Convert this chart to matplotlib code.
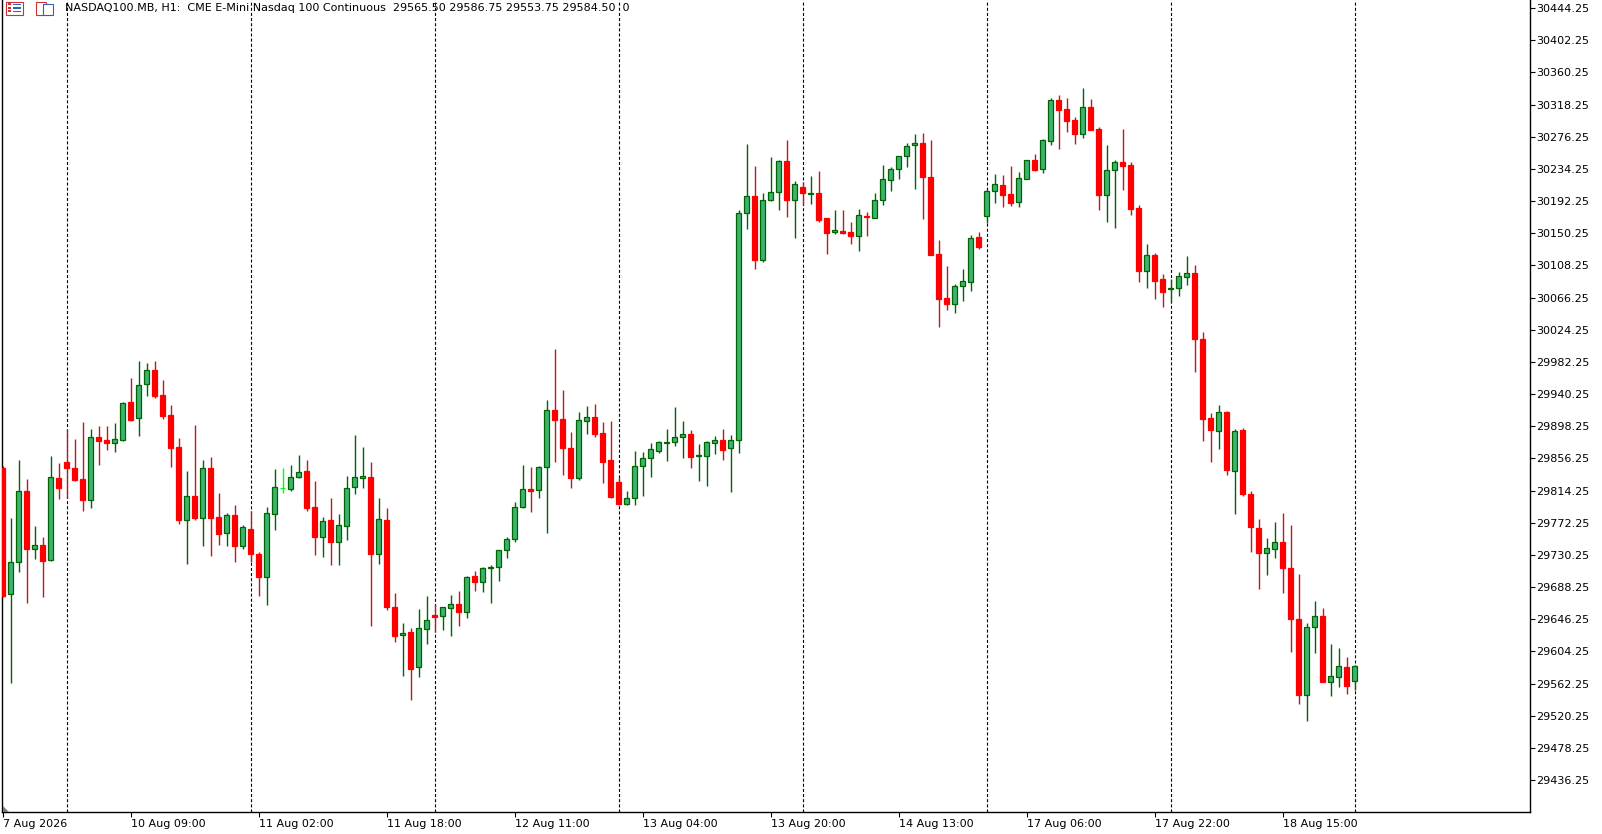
import matplotlib
matplotlib.use("Agg")
import matplotlib.pyplot as plt
from matplotlib.patches import Rectangle, Polygon
import numpy as np

# NASDAQ100.MB H1 candles (oldest first)
opens = [
    29844, 29678.75, 29720.5, 29813.25, 29738.25, 29742.75, 29723, 29830.5,
    29851, 29843.25, 29829, 29802.25, 29883.75, 29880.25, 29876.75, 29880.5,
    29929.75, 29909.25, 29953, 29971.25, 29938.5, 29912.5, 29870.75, 29776,
    29806.75, 29778, 29843.25, 29779.25, 29758.25, 29781.75, 29742.25,
    29764, 29731.25, 29701.75, 29784, 29817, 29816.5, 29831.5, 29839.25,
    29792.25, 29754, 29775.75, 29747.5, 29768.25, 29818.5, 29831, 29831.5,
    29731.75, 29775.75, 29661.75, 29625.25, 29629.5, 29583.5, 29633.75,
    29651.25, 29650, 29660.5, 29665.75, 29656, 29702.25, 29694.5, 29712.5,
    29714, 29736.25, 29750.5, 29793, 29815.75, 29814.5, 29844.5, 29919,
    29907.25, 29869.25, 29831, 29904.5, 29909.75, 29889, 29854,
    29825.25, 29796.25, 29804, 29845.75, 29856.25, 29866.25, 29876.25, 29878,
    29883.75, 29887.75, 29859, 29859.75, 29876, 29879.75, 29869.25, 29879.75,
    30176.25, 30198.5, 30114.75, 30193.25, 30203.5, 30244, 30193.25,
    30210.25, 30201.75, 30202.75, 30169.75, 30151.5, 30153, 30151.5, 30147,
    30172.75, 30170.5, 30194, 30220, 30234.5, 30250.5, 30265, 30267.5,
    30223.25, 30122.75, 30065.25, 30057.5, 30081, 30087, 30144.75,
    30173.25, 30204.75, 30212.75, 30201, 30191.25, 30221.5, 30245.5, 30234.5,
    30271, 30323.75, 30312, 30297.5, 30280.25, 30314.5, 30285.75, 30200.5,
    30233, 30242.75, 30238.75, 30182.75, 30101.25, 30121.25, 30090,
    30077, 30078.25, 30092.75, 30097.75, 30011.75, 29908.5, 29891.5, 29916.25,
    29839.25, 29892.75, 29809.25, 29765, 29732.25, 29737.5, 29747.5, 29712.75,
    29646, 29547.75, 29635.75, 29650, 29564.5, 29570.25, 29583.5,
    29565.5,
]
highs = [
    29846.25, 29778, 29854, 29829, 29768, 29753.5, 29859.25, 29850.25,
    29894.25, 29881.5, 29903.75, 29894.5, 29898.5, 29898.5, 29902.5, 29929.75,
    29961.25, 29983.25, 29980.75, 29983.25, 29958.5, 29926, 29882.75, 29839.75,
    29899.75, 29854, 29858, 29811, 29784.5, 29795.25, 29769.25,
    29787.5, 29733.5, 29792.25, 29842, 29843.75, 29847.5, 29860.5, 29854,
    29826.75, 29779.25, 29804.5, 29783.5, 29833.25, 29886.75, 29871, 29851.5,
    29804.5, 29791.5, 29680.5, 29641.25, 29634.25, 29659.5, 29676.5,
    29665.75, 29662, 29677.75, 29683, 29702.5, 29708.75, 29714, 29716.5,
    29736.5, 29753.25, 29798.75, 29847.5, 29845, 29846.25, 29932.5, 29999,
    29945.5, 29890.75, 29916.75, 29924.5, 29927.25, 29903.75, 29905,
    29831.5, 29813.5, 29865.75, 29864.5, 29876.25, 29879, 29894.5, 29923.75,
    29905, 29893.25, 29875, 29879, 29885.5, 29894.5, 29886.75, 30180.5,
    30266.75, 30238, 30202.75, 30249.75, 30245.5, 30272, 30218,
    30216.75, 30225, 30231.5, 30170, 30180.5, 30180.5, 30164.75, 30181.75,
    30178, 30202.75, 30239.25, 30236.75, 30250.75, 30267.5, 30279.75, 30281,
    30272, 30141.25, 30107.5, 30084.25, 30103.5, 30147.5, 30151.5,
    30208.25, 30227.5, 30225.75, 30238, 30229.75, 30245.75, 30253.5, 30272.75,
    30326.25, 30330.75, 30326.75, 30301.5, 30339.75, 30325.5, 30289, 30265.5,
    30245.75, 30286.25, 30243.25, 30187, 30136.5, 30124.25, 30097.25,
    30090, 30099.5, 30120.5, 30108.75, 30021.25, 29915.5, 29926, 29918,
    29894.25, 29895.5, 29813.25, 29776.75, 29752.25, 29773, 29784.5, 29768.75,
    29705.25, 29640.75, 29670, 29660.5, 29613.75, 29608.5, 29596.75,
    29586.75,
]
lows = [
    29675.25, 29563, 29708.25, 29667.75, 29725.25, 29675.5, 29722.5, 29803.25,
    29804, 29827, 29788, 29791.75, 29848, 29867.5, 29865, 29879.25,
    29905.5, 29885.75, 29938, 29935.5, 29907.5, 29845.25, 29771, 29718.75,
    29776, 29742.25, 29729, 29743.5, 29742.25, 29721.25, 29738.25,
    29721.25, 29677, 29665.25, 29763, 29811.5, 29814, 29831, 29788,
    29730, 29727.75, 29717.25, 29717.25, 29750, 29810, 29818, 29637.75,
    29718.75, 29658.5, 29616.75, 29572.5, 29540.75, 29571.25, 29614.25,
    29629, 29632.5, 29624.75, 29637.75, 29648.25, 29683.5, 29682, 29667.75,
    29696.5, 29726.5, 29746.5, 29791.75, 29786.5, 29804.75, 29759.25, 29851.75,
    29835, 29818, 29828.25, 29888.5, 29884.5, 29824.5, 29804.75,
    29795.75, 29795.75, 29795.75, 29807.5, 29832.25, 29863.5, 29853.25, 29872.75,
    29857, 29844, 29827, 29820.5, 29862.25, 29854.5, 29812.75, 29863.5,
    30156, 30103.75, 30113, 30191.75, 30180.5, 30171.75, 30144.25,
    30186.5, 30188.75, 30165.25, 30123.5, 30148.75, 30149.5, 30136.5, 30127.25,
    30147, 30170.25, 30186.75, 30205.75, 30221.5, 30237, 30208.25, 30169.25,
    30122, 30028.25, 30050.25, 30046.5, 30062, 30075.25, 30129.25,
    30164, 30190, 30184.75, 30186.25, 30184.75, 30221.25, 30231.75, 30229.25,
    30265.75, 30260.25, 30282.25, 30267, 30275, 30285, 30181, 30165.25,
    30157.5, 30207, 30174.25, 30087, 30079, 30064.75, 30054.25,
    30060.75, 30068.5, 30083, 29969.25, 29879.25, 29851.75, 29868.75, 29835,
    29784, 29807.5, 29734.25, 29686, 29704.25, 29726.5, 29680.75, 29603.75,
    29536, 29513.75, 29602.5, 29564.25, 29546.25, 29558, 29549,
    29553.75,
]
closes = [
    29677, 29720.5, 29813.25, 29738.25, 29742.75, 29722.5, 29832, 29818,
    29843.25, 29828, 29802.25, 29883.75, 29879.25, 29876.75, 29881, 29928.5,
    29906.25, 29951.5, 29971.25, 29938, 29912, 29870.25, 29776, 29806.75,
    29778.75, 29843.25, 29778.75, 29757.75, 29781.75, 29742.25, 29766.25,
    29731.75, 29701.75, 29784.5, 29818.5, 29817, 29831.5, 29838, 29791.75,
    29754, 29774, 29747.5, 29768.75, 29817, 29831.5, 29832.75, 29731.75,
    29776.75, 29662.5, 29624.75, 29627.75, 29581.5, 29634.25, 29644.75,
    29648.75, 29661.75, 29665.75, 29656, 29701, 29694.5, 29712.75, 29714.5,
    29736.25, 29750.5, 29792.25, 29815.75, 29814, 29845, 29919, 29906,
    29870.25, 29831, 29906, 29909.75, 29888.5, 29851.75, 29806.25,
    29797, 29804.5, 29846.25, 29856.25, 29868, 29877.25, 29877.5, 29883.75,
    29887.75, 29858.5, 29860.5, 29877.25, 29879.75, 29867.5, 29879.75, 30176.25,
    30198.5, 30114.75, 30193.25, 30203.5, 30244, 30194, 30214,
    30202.25, 30203, 30167.75, 30150.75, 30154, 30150.75, 30147, 30173.5,
    30171.75, 30193.25, 30220.5, 30233.75, 30250.5, 30263.75, 30267.5, 30224,
    30122.25, 30064.75, 30058.25, 30081, 30087.5, 30143.5, 30131.75,
    30205, 30214, 30200.5, 30190, 30222, 30245.5, 30233, 30271.5,
    30323.75, 30311.5, 30297, 30280.25, 30314.5, 30285.25, 30200.5, 30232.25,
    30242.75, 30238.25, 30182.25, 30101.25, 30121.25, 30088.25, 30073.75,
    30078.25, 30093.75, 30097.75, 30011.75, 29907.25, 29892.75, 29916.25, 29840.75,
    29891.5, 29810, 29766.25, 29732.25, 29738.75, 29747.5, 29712.75, 29646,
    29547.75, 29635.75, 29650, 29564.5, 29571.75, 29584.75, 29559.5,
    29584.5,
]

# bar index of the first H1 bar of each trading day (period separators)
day_starts = [8, 31, 54, 77, 100, 123, 146, 169]

time_ticks = [0, 16, 32, 48, 64, 80, 96, 112, 128, 144, 160]
time_labels = ["7 Aug 2026", "10 Aug 09:00", "11 Aug 02:00", "11 Aug 18:00",
               "12 Aug 11:00", "13 Aug 04:00", "13 Aug 20:00", "14 Aug 13:00",
               "17 Aug 06:00", "17 Aug 22:00", "18 Aug 15:00"]

price_ticks = [29436.25 + 42 * i for i in range(25)]

header = ("NASDAQ100.MB, H1:  CME E-Mini Nasdaq 100 Continuous  "
          "29565.50 29586.75 29553.75 29584.50  0")

bull_fill = "#3cb371"
bull_edge = "#006400"
bear_fill = "#ff0000"
bear_wick = "#c01820"
doji_col = "#00ff00"

plt.rcParams["font.family"] = ["DejaVu Sans"]
plt.rcParams["lines.scale_dashes"] = False

W, H = 1602, 834
fig = plt.figure(figsize=(W / 100, H / 100), dpi=100)
fig.patch.set_facecolor("white")
ax = fig.add_axes([2 / W, (H - 812) / H, 1528 / W, 812 / H])

o = np.array(opens)
h = np.array(highs)
l = np.array(lows)
c = np.array(closes)
x = np.arange(len(o))

fills, edges, wicks = [], [], []
for oo, cc in zip(o, c):
    if cc > oo:
        fills.append(bull_fill); edges.append(bull_edge); wicks.append(bull_edge)
    elif cc < oo:
        fills.append(bear_fill); edges.append(bear_fill); wicks.append(bear_wick)
    else:
        fills.append(doji_col); edges.append(doji_col); wicks.append(doji_col)

for d in day_starts:
    ax.axvline(d, color="black", lw=0.8, dashes=(2.2, 1.5), zorder=1)

ax.vlines(x, l, h, colors=wicks, lw=1.0, zorder=2)
ax.bar(x, np.abs(c - o), bottom=np.minimum(o, c), width=0.6,
       color=fills, edgecolor=edges, linewidth=0.9, zorder=3)

ax.set_xlim((2 - 2.67) / 8, (1530 - 2.67) / 8)
ax.set_ylim(30454.70 - 1.3057 * 812, 30454.70)

ax.yaxis.tick_right()
ax.set_yticks(price_ticks)
ax.set_yticklabels([f"{v:.2f}" for v in price_ticks])
ax.set_xticks(time_ticks)
ax.set_xticklabels(time_labels, ha="left")
ax.tick_params(axis="both", direction="out", length=3.5, width=0.8,
               labelsize=8, colors="black", pad=1.5)
ax.tick_params(axis="y", pad=1)

for side in ["left", "right", "bottom"]:
    ax.spines[side].set_color("black")
    ax.spines[side].set_linewidth(1.0)
ax.spines["top"].set_visible(False)

# header line with symbol info
fig.text(65 / W, 1 - 8 / H, header, fontsize=8, va="center", ha="left")

# small toolbar icons in the corner
fig.patches.append(Rectangle((6 / W, 1 - 15 / H), 17 / W, 13 / H, transform=fig.transFigure,
                             facecolor="white", edgecolor="#d03030", lw=0.8))
for i in range(3):
    yy = 1 - (5 + 3.5 * i) / H
    fig.patches.append(Rectangle((8 / W, yy), 3 / W, 2 / H, transform=fig.transFigure,
                                 facecolor="#d03030", edgecolor="none"))
    fig.patches.append(Rectangle((13 / W, yy), 8 / W, 1.5 / H, transform=fig.transFigure,
                                 facecolor="#3060c0", edgecolor="none"))
fig.patches.append(Rectangle((36 / W, 1 - 15 / H), 10 / W, 13 / H, transform=fig.transFigure,
                             facecolor="white", edgecolor="#d03030", lw=0.8))
fig.patches.append(Rectangle((43 / W, 1 - 15 / H), 10 / W, 11 / H, transform=fig.transFigure,
                             facecolor="white", edgecolor="#3060c0", lw=0.8))

# chart shift marker at bottom-left
fig.patches.append(Polygon([(3 / W, 1 - 806 / H), (3 / W, 1 - 812 / H), (9 / W, 1 - 812 / H)],
                           closed=True, transform=fig.transFigure,
                           facecolor="#708090", edgecolor="none"))

fig.savefig("out.png", dpi=100, facecolor="white")
